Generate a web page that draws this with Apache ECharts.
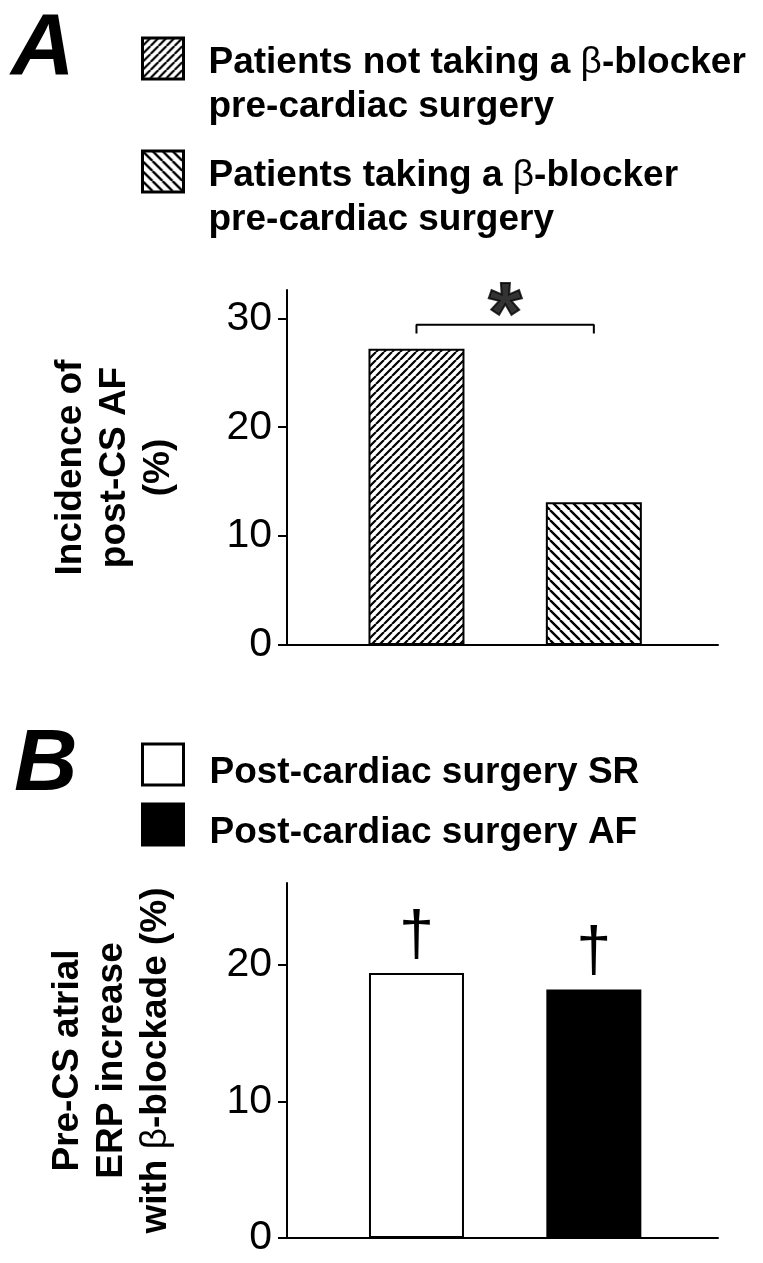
<!DOCTYPE html>
<html>
<head>
<meta charset="utf-8">
<script src="https://cdn.jsdelivr.net/npm/echarts@6/dist/echarts.min.js"></script>
<style>
html,body{margin:0;padding:0;background:#fff;}
#chart{width:763px;height:1263px;}
</style>
</head>
<body>
<div id="chart"></div>
<script>
// ---- Data ----
const panelACategories = ['Patients not taking a β-blocker\npre-cardiac surgery', 'Patients taking a β-blocker\npre-cardiac surgery'];
const panelAValues = [27.2, 13.1];           // Incidence of post-CS AF (%)
const panelATicks = [0, 10, 20, 30];
const panelAMax = 32.6;
const panelASigLevel = 29.4;                 // significance bracket level
const panelASigDrop = 28.6;                  // bracket end drop
const panelASigMark = '*';

const panelBCategories = ['Post-cardiac surgery SR', 'Post-cardiac surgery AF'];
const panelBValues = [19.4, 18.2];           // Pre-CS atrial ERP increase with β-blockade (%)
const panelBTicks = [0, 10, 20];
const panelBMax = 26;
const panelBMarks = ['†', '†'];

// ---- Styling helpers ----
const FONT = '"Liberation Sans", Arial, Helvetica, sans-serif';
function hatch(size, dir, lw) {
  const c = document.createElement('canvas');
  c.width = size; c.height = size;
  const g = c.getContext('2d');
  g.fillStyle = '#fff'; g.fillRect(0, 0, size, size);
  g.strokeStyle = '#000'; g.lineWidth = lw;
  g.beginPath();
  [-size, 0, size].forEach(o => {
    if (dir === '/') { g.moveTo(o, size); g.lineTo(o + size, 0); }
    else { g.moveTo(o, 0); g.lineTo(o + size, size); }
  });
  g.stroke();
  return { image: c, repeat: 'repeat' };
}
const fillA = [hatch(8, '/', 2.2), hatch(10, '\\', 2.4)];
const fillB = ['#ffffff', '#000000'];
const LH = 44;
const richBeta = { b: { fontFamily: FONT, fontWeight: 'normal', fontSize: 37, lineHeight: LH, color: '#000' } };
const betaRich = s => s.replace(/β/g, '{b|β}');

const pos = i => i + 1;
const X_MIN = 0.27, X_MAX = 2.7;

function xAxisCfg(gi) {
  return {
    gridIndex: gi, type: 'value', min: X_MIN, max: X_MAX,
    axisLine: { show: true, onZero: false, lineStyle: { color: '#000', width: 2 } },
    axisTick: { show: false }, axisLabel: { show: false }, splitLine: { show: false }
  };
}
function yAxisCfg(gi, max, ticks, name, gap) {
  return {
    gridIndex: gi, type: 'value', min: 0, max: max,
    name: name, nameLocation: 'middle', nameGap: gap, nameRotate: 90,
    nameTextStyle: { fontFamily: FONT, fontWeight: 'bold', fontSize: 37, lineHeight: LH, color: '#000', rich: richBeta },
    axisLine: { show: true, lineStyle: { color: '#000', width: 2 } },
    axisTick: { show: true, length: 9, customValues: ticks, lineStyle: { color: '#000', width: 2 } },
    axisLabel: { show: true, customValues: ticks, margin: 15, fontFamily: FONT, fontSize: 41, color: '#000' },
    splitLine: { show: false }
  };
}

const series = [];
panelACategories.forEach((name, i) => {
  series.push({
    type: 'bar', name: name, xAxisIndex: 0, yAxisIndex: 0,
    data: [[pos(i), panelAValues[i]]], barWidth: 96, barGap: '-100%',
    itemStyle: { color: fillA[i], borderColor: '#000', borderWidth: 2 }
  });
});
panelBCategories.forEach((name, i) => {
  series.push({
    type: 'bar', name: name, xAxisIndex: 1, yAxisIndex: 1,
    data: [[pos(i), panelBValues[i]]], barWidth: 95, barGap: '-100%',
    itemStyle: { color: fillB[i], borderColor: '#000', borderWidth: 2 },
    label: { show: true, position: 'top', distance: 4, formatter: panelBMarks[i],
             fontFamily: FONT, fontSize: 63, color: '#000', textBorderWidth: 0 }
  });
});
// significance bracket between the two panel A bars
series.push({
  type: 'line', xAxisIndex: 0, yAxisIndex: 0, symbol: 'none', silent: true,
  data: [[pos(0), panelASigDrop], [pos(0), panelASigLevel], [pos(1), panelASigLevel], [pos(1), panelASigDrop]],
  lineStyle: { color: '#000', width: 2 }
});
series.push({
  type: 'scatter', xAxisIndex: 0, yAxisIndex: 0, symbolSize: 0, silent: true,
  itemStyle: { color: '#000' },
  data: [[(pos(0) + pos(1)) / 2, panelASigLevel]],
  label: { show: true, position: 'inside', offset: [0, -7], formatter: panelASigMark,
           fontFamily: FONT, fontWeight: 'bold', fontSize: 86, color: '#000',
           textBorderWidth: 2, textBorderColor: '#000' }
});

function legendCfg(names, top, gap, padTop, padLeft) {
  return {
    data: names, orient: 'vertical', left: 141, top: top, padding: 0,
    itemWidth: 41, itemHeight: 41, itemGap: gap, icon: 'rect', selectedMode: false,
    itemStyle: { borderColor: '#000', borderWidth: 3 },
    formatter: n => betaRich(n),
    textStyle: { fontFamily: FONT, fontWeight: 'bold', fontSize: 37, lineHeight: 43, color: '#000',
                 padding: [padTop, 0, 0, padLeft], rich: richBeta }
  };
}

const option = {
  animation: false,
  backgroundColor: '#ffffff',
  title: [
    { text: 'A', left: 11, top: 6, padding: 0,
      textStyle: { fontFamily: FONT, fontStyle: 'italic', fontWeight: 'bold', fontSize: 88, color: '#000' } },
    { text: 'B', left: 14, top: 722, padding: 0,
      textStyle: { fontFamily: FONT, fontStyle: 'italic', fontWeight: 'bold', fontSize: 88, color: '#000' } }
  ],
  legend: [
    legendCfg(panelACategories, -11, -26, 52, 20),
    legendCfg(panelBCategories, 735, 1, 16, 21)
  ],
  grid: [
    { left: 287, right: 45, top: 290, bottom: 618, outerBoundsMode: 'none' },
    { left: 287, right: 45, top: 883, bottom: 25, outerBoundsMode: 'none' }
  ],
  xAxis: [xAxisCfg(0), xAxisCfg(1)],
  yAxis: [
    yAxisCfg(0, panelAMax, panelATicks, 'Incidence of\npost-CS AF\n(%)', 106),
    yAxisCfg(1, panelBMax, panelBTicks, 'Pre-CS atrial\nERP increase\nwith {b|β}-blockade (%)', 109)
  ],
  series: series
};

const chart = echarts.init(document.getElementById('chart'), null, { renderer: 'canvas' });
chart.setOption(option);
</script>
</body>
</html>
